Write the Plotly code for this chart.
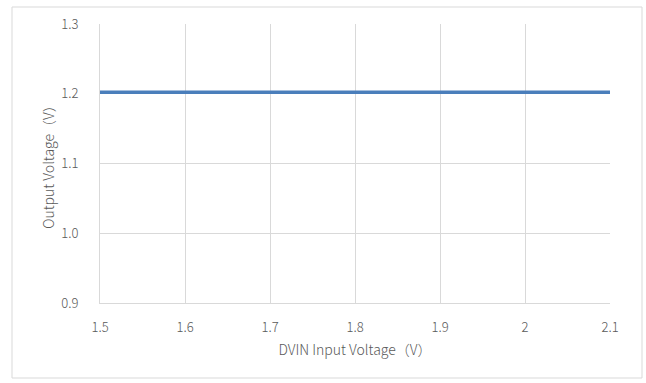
import plotly.graph_objects as go

dvin_input_v = [1.5, 1.6, 1.7, 1.8, 1.9, 2.0, 2.1]
output_v = [1.202, 1.202, 1.203, 1.202, 1.202, 1.202, 1.202]
x_ticks = [1.5, 1.6, 1.7, 1.8, 1.9, 2.0, 2.1]
x_tick_labels = ["1.5", "1.6", "1.7", "1.8", "1.9", "2", "2.1"]
y_ticks = [0.9, 1.0, 1.1, 1.2, 1.3]
y_tick_labels = ["0.9", "1.0", "1.1", "1.2", "1.3"]

W, H = 646, 383
ml, mr, mt, mb = 100, 36, 24, 80
pw, ph = W - ml - mr, H - mt - mb

def px_x(px):
    return (px - ml) / pw

def px_y(py):
    return (H - mb - py) / ph

font_family = "Noto Sans CJK SC, Noto Sans, sans-serif"
txt = "#595959"
grid = "#d9d9d9"

fig = go.Figure()
fig.add_trace(go.Scatter(x=dvin_input_v, y=output_v, mode="lines",
                         line=dict(color="#4a7ebb", width=3.5),
                         showlegend=False, hoverinfo="skip"))

fig.update_layout(
    width=W, height=H,
    margin=dict(l=ml, r=mr, t=mt, b=mb),
    paper_bgcolor="white", plot_bgcolor="white",
    font=dict(family=font_family, size=13, color=txt, weight=300),
    xaxis=dict(range=[1.5, 2.1], tickvals=x_ticks, ticktext=x_tick_labels,
               showgrid=True, gridcolor=grid, gridwidth=1,
               showline=True, linecolor=grid, linewidth=1, mirror=False,
               zeroline=False, ticks="", ticklabelstandoff=12,
               tickfont=dict(family=font_family, size=13, color=txt, weight=300),
               title=dict(text="DVIN Input Voltage（V）",
                          font=dict(family=font_family, size=14, color=txt, weight=300), standoff=10)),
    yaxis=dict(range=[0.9, 1.3], tickvals=y_ticks, ticktext=y_tick_labels,
               showgrid=True, gridcolor=grid, gridwidth=1,
               showline=True, linecolor=grid, linewidth=1,
               zeroline=False, ticks="", ticklabelstandoff=18,
               tickfont=dict(family=font_family, size=13, color=txt, weight=300),
               title=dict(text="Output Voltage（V）",
                          font=dict(family=font_family, size=14, color=txt, weight=300), standoff=3)),
    shapes=[dict(type="rect", xref="paper", yref="paper",
                 x0=px_x(12), x1=px_x(642), y0=px_y(378), y1=px_y(7),
                 line=dict(color="#d9d9d9", width=1), layer="below")],
)

fig.write_html("out.html")
